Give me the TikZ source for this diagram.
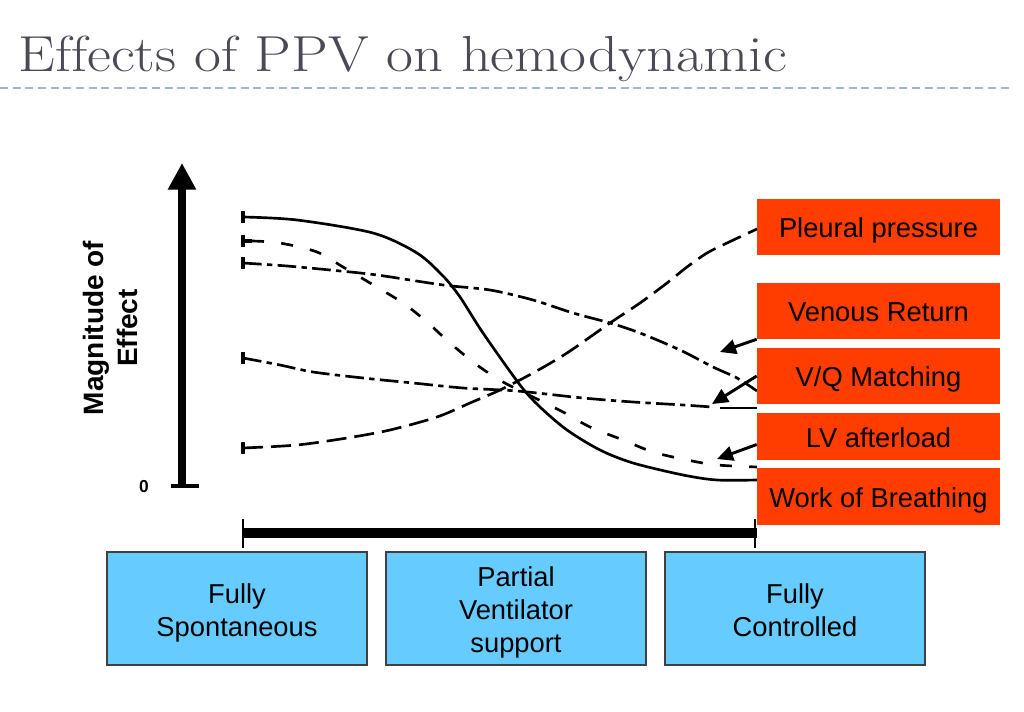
\documentclass[tikz,border=0pt]{standalone}
\usepackage{fontspec}
\newfontfamily\arialfont{Liberation Sans}
\usetikzlibrary{arrows.meta}
\definecolor{ored}{RGB}{255,61,0}
\definecolor{lblue}{RGB}{102,204,255}
\definecolor{titlegray}{RGB}{74,74,86}
\definecolor{rulecol}{RGB}{165,182,200}
\newcommand\firststrut{\rule{0pt}{21pt}}
\newcommand\laststrut{\rule[-4.5pt]{0pt}{4.5pt}}
\begin{document}
\begin{tikzpicture}[x=0.75pt,y=-0.75pt,
  obox/.style={fill=ored, minimum width=182.25pt, inner sep=0pt, text=black,
    text height=20.5pt, text depth=4.3pt,
    font=\arialfont\fontsize{20.5}{24}\selectfont},
  bbox/.style={fill=lblue, draw=black!75, line width=1pt, minimum width=195pt,
    minimum height=84.75pt, inner sep=0pt, align=center,
    font=\arialfont\fontsize{20.5}{24.75}\selectfont},
  crv/.style={line width=2pt, black, line join=round},
  solidcrv/.style={crv},
  shortdash/.style={crv, dash pattern=on 9pt off 13pt},
  longdash/.style={crv, dash pattern=on 15pt off 6pt},
  dashdot/.style={crv, dash pattern=on 14pt off 4pt on 4pt off 4pt},
  starttick/.style={line width=2.4pt, black},
  labarrow/.style={line width=2.2pt, black, -{Triangle[length=12pt,width=11pt]}},
]
\useasboundingbox (0,0) rectangle (1024,712);

% title
\node[anchor=base west, inner sep=0pt, text=titlegray,
  font=\fontsize{38}{46}\selectfont] (title) at (18,72) {\scalebox{1.155}[1]{Ef\kern0pt fects of PPV on hemodynamic}};
\coordinate (ruleL) at (0,88);
\coordinate (ruleR) at (1012,88);
\draw[rulecol, line width=0.8pt, dash pattern=on 6pt off 3.5pt] (ruleL) -- (ruleR);

% y axis
\coordinate (yb) at (182,486);
\coordinate (yt) at (182,163);
\draw[line width=6pt, -{Triangle[length=20pt,width=20pt]}] (yb) -- (yt);
\coordinate (ytl) at (171,486);
\coordinate (ytr) at (199,486);
\draw[line width=2.5pt] (ytl) -- (ytr);
\node[font=\arialfont\bfseries\fontsize{13}{13}\selectfont, inner sep=0pt] (zero) at (144,487) {0};
\node[rotate=90, align=center, inner sep=0pt,
  font=\arialfont\bfseries\fontsize{21}{25.5}\selectfont] (ylab) at (110,328) {Magnitude of\\Effect};

% x axis
\coordinate (xl) at (243,533);
\coordinate (xr) at (757,533);
\draw[line width=7pt] (xl) -- (xr);
\coordinate (t1a) at (243,519); \coordinate (t1b) at (243,548);
\coordinate (t2a) at (755,519); \coordinate (t2b) at (755,548);
\draw[line width=1.5pt] (t1a) -- (t1b);
\draw[line width=1.5pt] (t2a) -- (t2b);

% curve start ticks
\foreach \yy in {217,241,263,358,448} {
  \draw[starttick] (243,\yy-6) -- (243,\yy+6);
}

% solid curve (work of breathing)
\draw[solidcrv] plot[smooth, tension=0.5] coordinates {(243,217) (297,220) (373,233) (417,253) (443,276) (460,297) (483,333) (520,385) (540,407) (567,430) (600,450) (633,463) (683,475) (717,480) (757,480)};

% short dashed curve (LV afterload)
\draw[starttick] (243,241) -- (252,241);
\draw[shortdash] plot[smooth, tension=0.5] coordinates {(252,241) (280,243) (317,252) (343,267) (370,283) (403,303) (427,322) (450,343) (477,365) (503,382) (535,398) (563,412) (590,427) (623,440) (653,452) (687,460) (717,465) (757,467)};

% dash-dot curve (venous return)
\draw[dashdot] plot[smooth, tension=0.5] coordinates {(243,263) (287,266) (330,270) (377,275) (443,285) (490,290) (533,300) (573,313) (610,323) (640,333) (680,350) (713,367) (737,378) (757,391)};

% dash-dot curve (V/Q matching)
\draw[dashdot] plot[smooth, tension=0.5] coordinates {(243,358) (280,365) (313,372) (363,378) (413,383) (463,388) (517,391) (583,398) (633,402) (683,405) (712,407)};
\coordinate (vqa) at (720,408);
\coordinate (vqb) at (757,408);
\draw[crv] (vqa) -- (vqb);

% long dashed curve (pleural pressure)
\draw[longdash] plot[smooth, tension=0.5] coordinates {(243,448) (297,445) (347,438) (390,430) (437,417) (470,403) (500,390) (533,373) (567,353) (610,323) (640,303) (667,283) (687,267) (707,253) (727,243) (757,229)};

% orange label boxes
\node[obox, minimum height=42pt] (PP) at (878.5,227) {Pleural pressure};
\node[obox, minimum height=42pt] (VR) at (878.5,311) {Venous Return};
\node[obox, minimum height=41.5pt] (VQ) at (878.5,376) {V/Q Matching};
\node[obox, minimum height=35.25pt] (LV) at (878.5,436.5) {LV afterload};
\node[obox, minimum height=42.75pt] (WB) at (878.5,496.5) {Work of Breathing};

% label arrows
\coordinate (vrtip) at (720,352);
\coordinate (vqtip) at (712,404);
\coordinate (lvtip) at (717,459);
\draw[labarrow] (VR.south west) -- (vrtip);
\draw[labarrow] (VQ.west) -- (vqtip);
\draw[labarrow] ([yshift=-6pt]LV.west) -- (lvtip);

% blue category boxes
\node[bbox] (FS) at (237,608.5) {\firststrut Fully\\Spontaneous\laststrut};
\node[bbox] (PV) at (516,608.5) {\firststrut Partial\\Ventilator\\support\laststrut};
\node[bbox] (FC) at (795,608.5) {\firststrut Fully\\Controlled\laststrut};
\end{tikzpicture}
\end{document}
